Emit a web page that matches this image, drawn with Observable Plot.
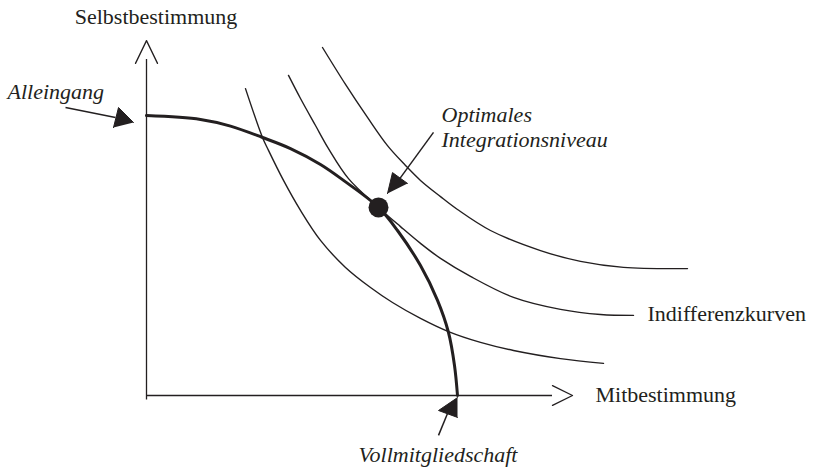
<!DOCTYPE html>
<html>
<head>
<meta charset="utf-8">
<script src="https://cdn.jsdelivr.net/npm/d3@7"></script>
<script src="https://cdn.jsdelivr.net/npm/@observablehq/plot@0.6"></script>
<style>
  html, body { margin: 0; padding: 0; background: #fff; }
  #chart svg { display: block; }
</style>
</head>
<body>
<div id="chart"></div>
<script>
// Conceptual units: x = Mitbestimmung, y = Selbstbestimmung (0–100)
const frontierX = [0, 10.8, 16.8, 23.2, 28.8, 34.8, 39.4, 46.4, 50.2, 54.8, 58.2, 60.4, 61.6, 62.2];
const frontierY = [93.3, 92, 89.8, 86, 82.3, 77, 71.7, 62.7, 55, 43.3, 31.7, 21, 10, 0];

const indiff1X = [19.8, 23.2, 24.4, 27.4, 30.8, 34.8, 39.8, 44.8, 49.2, 54.8, 60.4, 66.8, 73.4, 82.8, 91.4];
const indiff1Y = [102.3, 86, 81.7, 71.7, 61.7, 51.7, 42.7, 36, 31, 25.7, 21.3, 17.7, 15, 12.3, 10.7];

const indiff2X = [28.4, 30.8, 33.8, 36.4, 40.4, 46.4, 50.8, 54.8, 58.8, 64.8, 73.4, 82.8, 90.8, 97.4];
const indiff2Y = [106.7, 99, 90, 82.3, 72.3, 62.7, 56.3, 50.7, 45.7, 39.7, 32.7, 28.7, 27, 26.7];

const indiff3X = [35.2, 39.8, 44.2, 48.2, 51.8, 54.8, 58.8, 62.2, 68.8, 78.8, 86.8, 95.4, 108.2];
const indiff3Y = [116, 103.7, 92.7, 83.3, 76.7, 71.7, 66.3, 62, 55, 48.3, 44.7, 42.7, 42.3];

const optimum = [{x: 46.4, y: 62.7}];

// Axis extents and open arrowheads (data units)
const axisX = {from: 0, to: 81.2};
const axisY = {from: -1.5, to: 112};
const xHead = [{x: 81.2, y: 3.3}, {x: 85.2, y: 0}, {x: 81.2, y: -3.3}];
const yHead = [{x: -2.2, y: 110.7}, {x: 0, y: 118.3}, {x: 2.2, y: 110.7}];

// Annotation pointers: shaft + filled triangular head (data units)
const pointerShafts = [
  {id: "Alleingang", x1: -16.2, y1: 96, x2: -6.2, y2: 92.7},
  {id: "Optimum", x1: 57.4, y1: 87.7, x2: 50.4, y2: 71.7},
  {id: "Voll", x1: 58.4, y1: -13.3, x2: 60.2, y2: -6}
];
const pointerHeads = [
  {id: "Alleingang", x: -2.6, y: 91}, {id: "Alleingang", x: -5.6, y: 96}, {id: "Alleingang", x: -6.6, y: 89.3},
  {id: "Optimum", x: 48.2, y: 67.3}, {id: "Optimum", x: 49.2, y: 74.3}, {id: "Optimum", x: 52.2, y: 70.7},
  {id: "Voll", x: 62.2, y: -0.7}, {id: "Voll", x: 58.4, y: -5}, {id: "Voll", x: 62.2, y: -7.3}
];

// Texts
const titleLabels = [{text: "Selbstbestimmung", x: 1.9, y: 124}];
const rightLabels = [
  {text: "Mitbestimmung", x: 89.8, y: -2.3},
  {text: "Indifferenzkurven", x: 100.2, y: 25}
];
const italicStartLabels = [
  {text: "Alleingang", x: -27.8, y: 99},
  {text: "Optimales", x: 59, y: 91.3},
  {text: "Integrationsniveau", x: 59, y: 83}
];
const italicEndLabels = [{text: "Vollmitgliedschaft", x: 74.2, y: -22}];

const toPts = (xs, ys) => xs.map((x, i) => ({x, y: ys[i]}));
const frontier = toPts(frontierX, frontierY);
const curves = [toPts(indiff1X, indiff1Y), toPts(indiff2X, indiff2Y), toPts(indiff3X, indiff3Y)];

const ink = "#231f20";
const font = "'Liberation Serif', 'DejaVu Serif', serif";
const textOpts = {x: "x", y: "y", text: "text", lineAnchor: "bottom", fontSize: 22, fontFamily: font, fill: ink};

const chart = Plot.plot({
  width: 814,
  height: 469,
  marginLeft: 146,
  marginRight: 168,
  marginTop: 95,
  marginBottom: 74,
  x: {domain: [0, 100], axis: null},
  y: {domain: [0, 100], axis: null},
  style: {background: "#fff", overflow: "visible"},
  marks: [
    // axes
    Plot.ruleY([0], {x1: axisX.from, x2: axisX.to, stroke: ink, strokeWidth: 1.3}),
    Plot.ruleX([0], {y1: axisY.from, y2: axisY.to, stroke: ink, strokeWidth: 1.3}),
    Plot.line(xHead, {x: "x", y: "y", stroke: ink, strokeWidth: 1.3}),
    Plot.line(yHead, {x: "x", y: "y", stroke: ink, strokeWidth: 1.3}),
    // indifference curves
    ...curves.map(c => Plot.line(c, {x: "x", y: "y", curve: "catmull-rom", stroke: ink, strokeWidth: 1.4})),
    // frontier
    Plot.line(frontier, {x: "x", y: "y", curve: "catmull-rom", stroke: ink, strokeWidth: 3}),
    // optimum dot
    Plot.dot(optimum, {x: "x", y: "y", r: 10, fill: ink, stroke: "none"}),
    // pointers
    Plot.link(pointerShafts, {x1: "x1", y1: "y1", x2: "x2", y2: "y2", stroke: ink, strokeWidth: 1.5}),
    Plot.line(pointerHeads, {x: "x", y: "y", z: "id", fill: ink, stroke: ink, strokeWidth: 1, strokeLinejoin: "miter"}),
    // labels
    Plot.text(titleLabels, {...textOpts, textAnchor: "middle"}),
    Plot.text(rightLabels, {...textOpts, textAnchor: "start"}),
    Plot.text(italicStartLabels, {...textOpts, textAnchor: "start", fontStyle: "italic"}),
    Plot.text(italicEndLabels, {...textOpts, textAnchor: "end", fontStyle: "italic"})
  ]
});

document.getElementById("chart").appendChild(chart);
</script>
</body>
</html>
